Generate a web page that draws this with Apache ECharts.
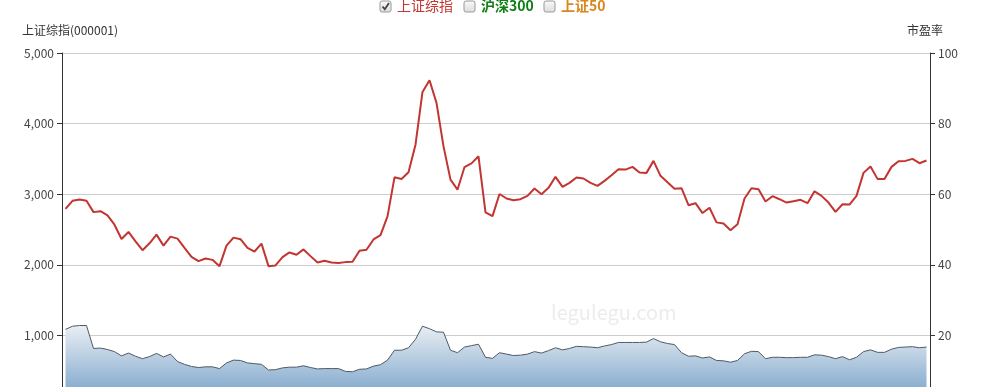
<!DOCTYPE html>
<html>
<head>
<meta charset="utf-8">
<script src="https://cdn.jsdelivr.net/npm/echarts@6/dist/echarts.min.js"></script>
<style>html,body{margin:0;padding:0;background:#fff}#c{width:1000px;height:387px}</style>
</head>
<body>
<div id="c"></div>
<script>
// monthly categories Jan 2011 .. Apr 2021
var categories = [];
for (var y = 2011; y <= 2021; y++) {
  for (var m = 1; m <= 12; m++) {
    if (y === 2021 && m > 4) break;
    categories.push(y + '-' + (m < 10 ? '0' + m : m));
  }
}
var szIndex = [
  2793,2906,2925,2906,2746,2760,2700,2568,2366,2465,2333,2207,
  2305,2427,2272,2399,2371,2239,2113,2052,2089,2070,1981,2272,
  2385,2362,2239,2188,2300,1981,1991,2108,2175,2142,2218,2123,
  2033,2057,2033,2024,2038,2043,2199,2213,2359,2421,2686,3239,
  3215,3310,3702,4449,4615,4293,3678,3206,3064,3385,3437,3537,
  2742,2690,3003,2939,2915,2929,2976,3080,3000,3090,3246,3104,
  3160,3236,3222,3160,3118,3189,3269,3354,3349,3387,3307,3302,
  3472,3260,3170,3076,3085,2844,2873,2733,2808,2601,2585,2490,
  2575,2939,3085,3071,2896,2972,2929,2882,2901,2920,2873,3042,
  2976,2882,2750,2858,2854,2976,3302,3392,3217,3217,3387,3467,
  3472,3500,3439,3477
];
var peRatio = [
  21.7,22.6,22.8,22.8,16.3,16.4,16.0,15.4,14.2,15.0,14.1,13.4,
  14.0,14.9,13.9,14.7,12.6,11.8,11.2,10.9,11.1,11.1,10.6,12.2,
  13.0,12.9,12.2,12.0,11.8,10.2,10.3,10.8,11.0,11.0,11.4,10.9,
  10.5,10.6,10.6,10.6,9.8,9.7,10.4,10.5,11.3,11.7,13.0,15.8,
  15.8,16.5,18.9,22.6,21.9,21.0,20.9,15.8,15.1,16.7,17.1,17.5,
  13.8,13.5,15.1,14.7,14.3,14.4,14.7,15.4,15.0,15.7,16.5,15.9,
  16.3,16.9,16.8,16.7,16.5,17.0,17.4,18.0,18.0,18.0,18.0,18.1,
  19.1,18.2,17.7,17.4,15.1,14.1,14.2,13.6,13.9,12.9,12.8,12.4,
  12.9,14.8,15.5,15.4,13.4,13.8,13.8,13.7,13.7,13.8,13.8,14.5,
  14.4,14.0,13.4,14.0,13.1,13.8,15.4,15.9,15.2,15.2,16.1,16.6,
  16.7,16.8,16.5,16.7
];
var legendNames = ['上证综指', '沪深300', '上证50'];
var legendColors = ['#c23531', '#0e7d12', '#d9861c'];
var legendChecked = [true, false, false];

var FONT = '"Noto Sans CJK SC", "Noto Sans", sans-serif';

function checkbox(x, checked) {
  var children = [{
    type: 'rect', shape: {x: x, y: 1, width: 11, height: 11, r: 2},
    style: {fill: {type:'linear',x:0,y:0,x2:0,y2:1,colorStops:[{offset:0,color:'#fafafa'},{offset:1,color:'#dcdcdc'}]}, stroke: '#9a9a9a', lineWidth: 1}
  }];
  if (checked) {
    children.push({
      type: 'polyline', shape: {points: [[x+2.5,6.5],[x+4.8,9.2],[x+9,3]]},
      style: {stroke: '#444', lineWidth: 1.8, fill: null}
    });
  }
  return {type: 'group', children: children};
}
var legendX = [380, 464, 544];
var graphics = [];
for (var i = 0; i < legendNames.length; i++) {
  graphics.push(checkbox(legendX[i], legendChecked[i]));
  graphics.push({
    type: 'text', left: legendX[i] + 17, top: -1,
    style: {text: legendNames[i], fill: legendColors[i], font: (i === 0 ? 'normal' : 'bold') + ' 14px ' + FONT}
  });
}
graphics.push({
  type: 'text', left: 551, top: 302, z: 0,
  style: {text: 'legulegu.com', fill: '#ececec', font: '20px ' + FONT}
});

var chart = echarts.init(document.getElementById('c'));
chart.setOption({
  animation: false,
  backgroundColor: '#fff',
  grid: {left: 62, width: 868, top: 53, height: 353, outerBoundsMode: 'none', containLabel: false},
  graphic: graphics,
  xAxis: {
    type: 'category', data: categories, boundaryGap: true,
    axisLine: {show: false}, axisTick: {show: false}, axisLabel: {show: false}
  },
  yAxis: [{
    type: 'value', min: 0, max: 5000, interval: 1000,
    name: '上证综指(000001)', nameGap: 17,
    nameTextStyle: {color: '#333', fontSize: 12, fontFamily: FONT, padding: [0, 0, 0, 16]},
    axisLine: {show: true, lineStyle: {color: '#333'}},
    axisTick: {show: true, length: 5, lineStyle: {color: '#333'}},
    axisLabel: {color: '#444', fontSize: 12, fontFamily: FONT, margin: 8,
      formatter: function (v) { return v.toLocaleString('en-US'); }},
    splitLine: {show: true, lineStyle: {color: '#cccccc'}}
  }, {
    type: 'value', min: 0, max: 100, interval: 20, position: 'right',
    name: '市盈率', nameGap: 17,
    nameTextStyle: {color: '#333', fontSize: 12, fontFamily: FONT, padding: [0, 10, 0, 0]},
    axisLine: {show: true, lineStyle: {color: '#333'}},
    axisTick: {show: true, length: 5, lineStyle: {color: '#333'}},
    axisLabel: {color: '#444', fontSize: 12, fontFamily: FONT, margin: 8},
    splitLine: {show: false}
  }],
  series: [{
    name: '市盈率', type: 'line', yAxisIndex: 1, data: peRatio,
    symbol: 'none', z: 1,
    lineStyle: {color: '#4d5a66', width: 1},
    areaStyle: {color: {type: 'linear', x: 0, y: 0, x2: 0, y2: 1, colorStops: [
      {offset: 0, color: '#e9eef3'}, {offset: 1, color: '#6f9cc6'}]}, opacity: 1}
  }, {
    name: '上证综指', type: 'line', yAxisIndex: 0, data: szIndex,
    symbol: 'none', z: 3,
    lineStyle: {color: '#c23531', width: 2}
  }]
});
</script>
</body>
</html>
